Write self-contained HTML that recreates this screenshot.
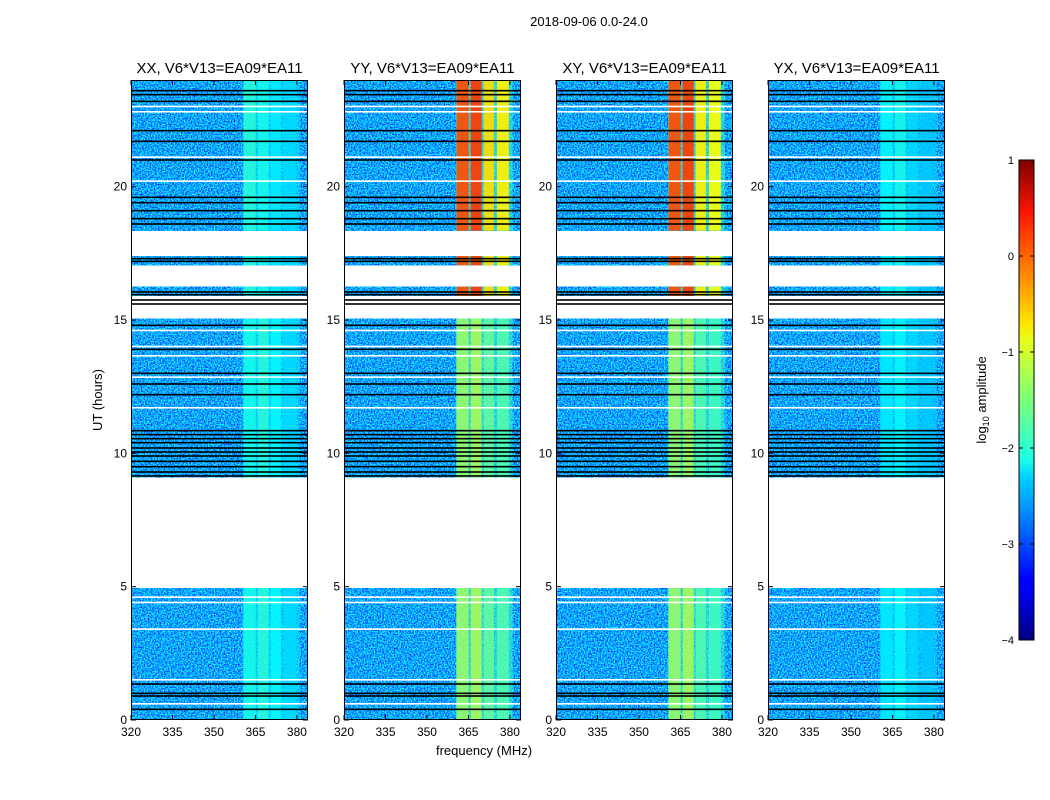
<!DOCTYPE html>
<html><head><meta charset="utf-8"><style>
body{margin:0;background:#fff;}
svg{display:block;font-family:"Liberation Sans","DejaVu Sans",sans-serif;}
</style></head><body>
<svg id="fig" width="1050" height="800" viewBox="0 0 1050 800">
<defs>
<filter id="noise" x="0" y="0" width="1" height="1" color-interpolation-filters="sRGB">
<feTurbulence type="fractalNoise" baseFrequency="0.7" numOctaves="1" seed="3"/>
<feColorMatrix type="matrix" values="0 0 0 0 0.05  2.2 0 0 0 -0.45  0 0 0 0 1  0 0 0 0 1"/>
</filter>
<filter id="noise2" x="0" y="0" width="1" height="1" color-interpolation-filters="sRGB">
<feTurbulence type="fractalNoise" baseFrequency="0.5" numOctaves="1" seed="7"/>
<feColorMatrix type="matrix" values="0 0 0 0 0  0 0 0 0 0  0 0 0 0 0.6  -3 0 0 0 1.2"/>
</filter>
<linearGradient id="jet" x1="0" y1="1" x2="0" y2="0">
<stop offset="0" stop-color="#00007f"/><stop offset="0.11" stop-color="#0000ff"/>
<stop offset="0.125" stop-color="#0000ff"/><stop offset="0.34" stop-color="#00d4ff"/>
<stop offset="0.375" stop-color="#1affe6"/><stop offset="0.5" stop-color="#7dff7a"/>
<stop offset="0.625" stop-color="#e6ff1a"/><stop offset="0.66" stop-color="#ffe500"/>
<stop offset="0.89" stop-color="#ff1400"/><stop offset="1" stop-color="#7f0000"/>
</linearGradient>
</defs>
<text x="589" y="26" font-size="13" text-anchor="middle">2018-09-06 0.0-24.0</text>
<text x="484" y="755" font-size="13" text-anchor="middle">frequency (MHz)</text>
<text transform="translate(102,400) rotate(-90)" font-size="13" text-anchor="middle">UT (hours)</text>
<g id="panels"></g>
<g id="cbar"></g>
</svg>
<script>
const panelTitles=["XX, V6*V13=EA09*EA11","YY, V6*V13=EA09*EA11","XY, V6*V13=EA09*EA11","YX, V6*V13=EA09*EA11"];
const xTicks=[320,335,350,365,380];
const yTicks=[0,5,10,15,20];
const cbarTicks=[-4,-3,-2,-1,0,1];
const rfiSpan=[360.5,381];
const rfiSpanLevel=[-2.2,-1.8,-1.8,-2.3];
const rfiCols=[[360.7,365.1],[365.8,369.8],[370.5,374.2],[375.3,379.6]];
const rfiUpper=[[-1.9,-2.0,-2.2,-2.3],[0.0,0.1,-0.7,-0.8],[0.0,0.1,-0.8,-0.9],[-2.1,-2.0,-2.3,-2.4]];
const rfiLower=[[-2.0,-1.9,-2.1,-2.3],[-1.3,-1.2,-1.6,-1.7],[-1.3,-1.2,-1.7,-1.8],[-2.2,-2.1,-2.3,-2.4]];
const segments=[[0,4.95],[9.1,15.05],[15.9,16.25],[17.05,17.4],[18.35,24]];
const blackLines=[0.4,0.9,1.0,1.35,9.15,9.3,9.5,9.7,9.9,10.05,10.2,10.4,10.55,10.7,10.85,12.2,12.6,13.0,13.9,14.8,15.6,15.75,15.95,16.05,17.2,17.3,18.6,18.8,19.1,19.4,19.6,21.0,21.7,22.1,23.2,23.45,23.6];
const whiteLines=[0.6,1.5,3.4,4.4,4.6,11.7,12.85,13.65,14.0,14.6,20.2,21.1,22.8,23.0];
const panelLefts=[131,344,556,768];
const PW=177,PT=80,PH=640,F0=320,F1=384,T0=0,T1=24;
const NS="http://www.w3.org/2000/svg";
function mk(tag,attrs,parent){const e=document.createElementNS(NS,tag);for(const k in attrs)e.setAttribute(k,attrs[k]);parent.appendChild(e);return e;}
function yOf(t){return PT+PH-(t-T0)/(T1-T0)*PH;}
function jet(v){
  const x=Math.max(0,Math.min(1,(v+4)/5));
  const r=Math.min(4*x-1.5,-4*x+4.5),g=Math.min(4*x-0.5,-4*x+3.5),b=Math.min(4*x+0.5,-4*x+2.5);
  const c=q=>Math.round(255*Math.max(0,Math.min(1,q)));
  return `rgb(${c(r)},${c(g)},${c(b)})`;
}
const root=document.getElementById('panels');
panelLefts.forEach((L,p)=>{
  const xOf=f=>Math.min(L+PW,L+(f-F0)/(F1-F0)*PW);
  const g=mk('g',{},root);
  
  
  segments.forEach(s=>{
    const y1=yOf(s[1]),y0=yOf(s[0]);
    const r=mk('rect',{x:L,y:y1,width:PW,height:y0-y1,fill:'#1f78e8',filter:'url(#noise)'},g);
    
    
    const r2=mk('rect',{x:L,y:y1,width:PW,height:y0-y1,fill:'#000',filter:'url(#noise2)',opacity:0.3},g);
    
    
    const sp=mk('rect',{x:xOf(rfiSpan[0]),y:y1,width:xOf(rfiSpan[1])-xOf(rfiSpan[0]),height:y0-y1,fill:jet(rfiSpanLevel[p]),opacity:0.55},g);
    
    
    rfiCols.forEach((c,i)=>{
      const v=(s[0]>=15.5?rfiUpper:rfiLower)[p][i];
      const cr=mk('rect',{x:xOf(c[0]),y:y1,width:xOf(c[1])-xOf(c[0]),height:y0-y1,fill:jet(v),opacity:v>-1?0.92:0.78},g);
      
      
    });
  });
  whiteLines.forEach(t=>{
    const l=mk('rect',{x:L,y:yOf(t)-1,width:PW,height:1.6,fill:'#fff'},g);
    
    
  });
  blackLines.forEach(t=>{
    const l=mk('rect',{x:L,y:yOf(t)-0.8,width:PW,height:1.6,fill:'#000'},g);
    
    
  });
  const fr=mk('rect',{x:L+0.5,y:PT+0.5,width:PW-1,height:PH-1,fill:'none',stroke:'#000','stroke-width':1},g);
  
  
  const tt=mk('text',{x:L+PW/2,y:73,'font-size':15,'text-anchor':'middle'},g);
  tt.textContent=panelTitles[p];
  
  
  xTicks.forEach(f=>{
    const x=xOf(f);
    mk('line',{x1:x,x2:x,y1:PT+PH,y2:PT+PH-5,stroke:'#000'},g);
    mk('line',{x1:x,x2:x,y1:PT,y2:PT+5,stroke:'#000'},g);
    const t=mk('text',{x:x,y:PT+PH+16,'font-size':12,'text-anchor':'middle'},g);
    t.textContent=f;
    
    
  });
  yTicks.forEach(v=>{
    const y=yOf(v);
    mk('line',{x1:L,x2:L+5,y1:y,y2:y,stroke:'#000'},g);
    mk('line',{x1:L+PW,x2:L+PW-5,y1:y,y2:y,stroke:'#000'},g);
    const t=mk('text',{x:L-4,y:y+4,'font-size':12,'text-anchor':'end'},g);
    t.textContent=v;
    
    
  });
});
const cb=document.getElementById('cbar');
const CX=1019,CW=15,CT=160,CH=480;
const cr=mk('rect',{x:CX,y:CT,width:CW,height:CH,fill:'url(#jet)',stroke:'#000','stroke-width':1},cb);


cbarTicks.forEach(v=>{
  const y=CT+CH-(v+4)/5*CH;
  mk('line',{x1:CX,x2:CX+4,y1:y,y2:y,stroke:'#000'},cb);
  mk('line',{x1:CX+CW,x2:CX+CW-4,y1:y,y2:y,stroke:'#000'},cb);
  const t=mk('text',{x:CX-5,y:y+4,'font-size':11,'text-anchor':'end'},cb);
  t.textContent=(v<0?'\u2212'+(-v):v);
  
  
});
const cl=mk('text',{transform:'translate(986,400) rotate(-90)','font-size':13,'text-anchor':'middle'},cb);
cl.innerHTML='log<tspan font-size="9" dy="3">10</tspan><tspan dy="-3"> amplitude</tspan>';


</script>
</body></html>
